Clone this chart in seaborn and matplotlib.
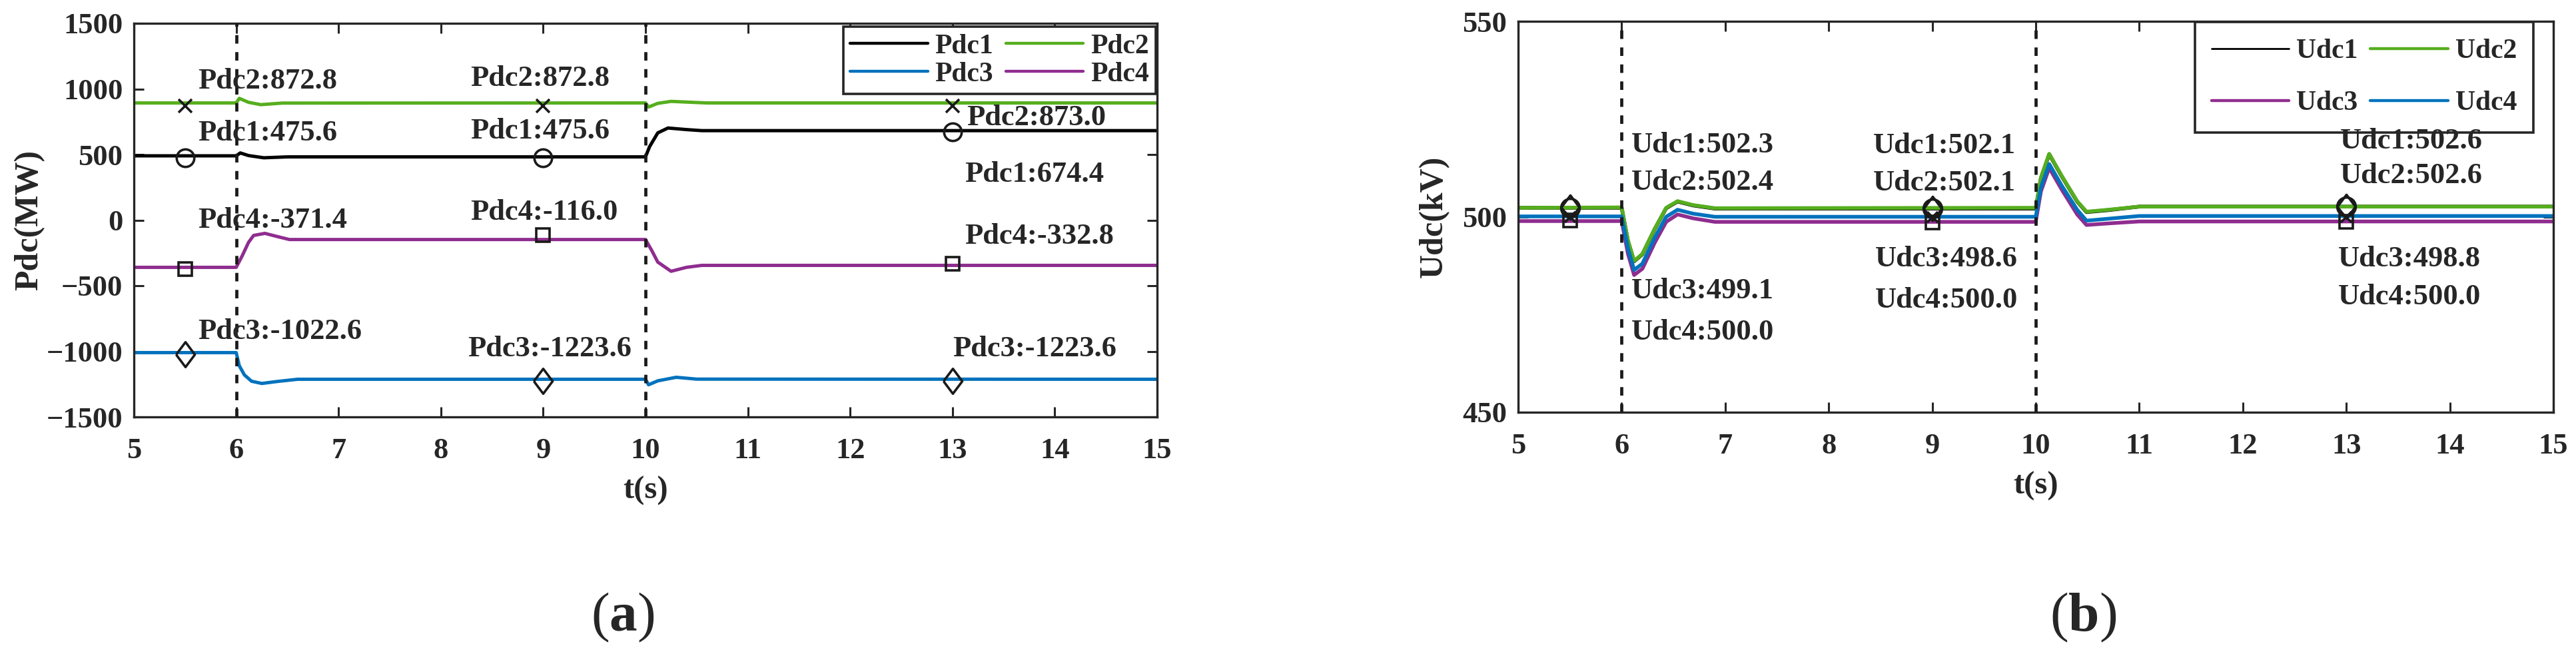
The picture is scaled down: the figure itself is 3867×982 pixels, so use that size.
import pandas as pd
import matplotlib.pyplot as plt
import seaborn as sns
from matplotlib.lines import Line2D

# ---------------- data ----------------
# (a) converter DC power, MW  (breakpoints of each trace)
pdc1_t = [5, 6.0, 6.04, 6.12, 6.27, 6.5, 10.0, 10.04, 10.12, 10.22, 10.4, 10.55, 15]
pdc1_v = [490, 490, 512, 492, 475, 482, 482, 560, 665, 702, 690, 682, 682]
pdc2_t = [5, 6.0, 6.03, 6.12, 6.24, 6.45, 10.0, 10.03, 10.12, 10.25, 10.45, 10.6, 15]
pdc2_v = [893, 893, 928, 898, 880, 892, 893, 862, 890, 905, 898, 893, 893]
pdc3_t = [5, 6.0, 6.03, 6.08, 6.15, 6.25, 6.4, 6.6, 10.0, 10.03, 10.12, 10.3, 10.5, 15]
pdc3_v = [-1010, -1010, -1110, -1180, -1228, -1245, -1230, -1213, -1213, -1255, -1225, -1198, -1212, -1213]
pdc4_t = [5, 6.0, 6.06, 6.12, 6.17, 6.28, 6.4, 6.52, 10.0, 10.06, 10.12, 10.25, 10.4, 10.55, 15]
pdc4_v = [-360, -360, -270, -170, -117, -101, -125, -148, -148, -230, -320, -390, -360, -345, -345]

# (b) converter DC voltage, kV
udc_t = [5, 6.0, 6.06, 6.12, 6.2, 6.32, 6.43, 6.54, 6.69, 6.9,
         10.0, 10.05, 10.13, 10.25, 10.4, 10.49, 10.7, 11.0, 15]
udc1_v = [502.3, 502.3, 493.9, 488.6, 490.4, 496.9, 502.2, 503.9, 502.9, 502.1,
          502.1, 509.9, 516.0, 510.4, 503.9, 501.2, 501.7, 502.6, 502.6]
udc2_v = [502.3, 502.4, 494.0, 488.7, 490.5, 497.0, 502.3, 504.0, 503.0, 502.2,
          502.3, 510.0, 516.1, 510.5, 504.0, 501.3, 501.8, 502.6, 502.6]
udc3_v = [498.9, 498.9, 490.6, 485.1, 486.7, 493.4, 498.7, 500.6, 499.6, 498.7,
          498.7, 506.5, 512.5, 507.0, 500.6, 497.9, 498.3, 498.8, 498.8]
udc4_v = [500.1, 500.1, 492.0, 486.4, 488.0, 494.7, 500.0, 501.8, 500.8, 500.0,
          500.0, 507.5, 513.5, 508.0, 501.8, 499.0, 499.5, 500.2, 500.2]

# marked sample points and their values
mark_t = [5.5, 9, 13]
pdc1_mark = [475.6, 475.6, 674.4]
pdc2_mark = [872.8, 872.8, 873.0]
pdc3_mark = [-1022.6, -1223.6, -1223.6]
pdc4_mark = [-371.4, -116.0, -332.8]
udc1_mark = [502.3, 502.1, 502.6]
udc2_mark = [502.4, 502.1, 502.6]
udc3_mark = [499.1, 498.6, 498.8]
udc4_mark = [500.0, 500.0, 500.0]
fault_t = [6, 10]

# ---------------- style ----------------
sns.set_theme(style='ticks')
plt.rcParams['font.family'] = ['Liberation Serif', 'DejaVu Serif']
plt.rcParams['font.weight'] = 'bold'
plt.rcParams['mathtext.fontset'] = 'custom'
plt.rcParams['mathtext.rm'] = 'Liberation Serif'
plt.rcParams['mathtext.bf'] = 'Liberation Serif:bold'

BLACK, GREEN, BLUE, PURPLE = '#000000', '#56AE1E', '#0072BD', '#8F2D8F'
DIAMOND = [(-0.75, 0), (0, 1), (0.75, 0), (0, -1), (-0.75, 0)]


def to_long(series):
    parts = [pd.DataFrame({'t': t, 'v': v, 'name': name}) for name, (t, v) in series.items()]
    return pd.concat(parts, ignore_index=True)


def style_axes(ax):
    for s in ax.spines.values():
        s.set_visible(True)
        s.set_linewidth(2.4)
        s.set_color('#262626')
    ax.tick_params(direction='in', top=True, right=True, length=11, width=2.2,
                   colors='#262626', labelsize=32)
    ax.tick_params(axis='x', pad=22)
    ax.tick_params(axis='y', pad=12)
    for lab in ax.get_xticklabels() + ax.get_yticklabels():
        lab.set_fontweight('bold')
    for x in fault_t:
        ax.axvline(x, color='k', lw=3.4, ls=(0, (2.7, 2.7)), zorder=6)


fig = plt.figure(figsize=(38.67, 9.82), dpi=100)
ax1 = fig.add_axes([201 / 3867, 1 - 626 / 982, 1536 / 3867, 591 / 982])
ax2 = fig.add_axes([2279 / 3867, 1 - 619 / 982, 1554 / 3867, 587 / 982])

# ---------------- (a) power ----------------
pdc = to_long({'Pdc1': (pdc1_t, pdc1_v), 'Pdc2': (pdc2_t, pdc2_v),
               'Pdc3': (pdc3_t, pdc3_v), 'Pdc4': (pdc4_t, pdc4_v)})
pdc_colors = {'Pdc1': BLACK, 'Pdc2': GREEN, 'Pdc3': BLUE, 'Pdc4': PURPLE}
sns.lineplot(data=pdc, x='t', y='v', hue='name', hue_order=['Pdc1', 'Pdc2', 'Pdc3', 'Pdc4'],
             palette=pdc_colors, estimator=None, sort=False, lw=3.6, legend=False, ax=ax1)

mk = dict(ls='none', mfc='none', mec='k', mew=2.6, zorder=7)
ax1.plot(mark_t, pdc1_mark, marker='o', ms=19, **mk)
ax1.plot(mark_t, pdc2_mark, marker='x', ms=14, **mk)
ax1.plot(mark_t, pdc3_mark, marker=DIAMOND, ms=27, **mk)
ax1.plot(mark_t, pdc4_mark, marker='s', ms=15, **mk)

# label anchors (t, y) for each marked point
pdc_text_pos = {
    'Pdc2': [(5.625, 1005), (8.29, 1025), (13.14, 721)],
    'Pdc1': [(5.625, 609), (8.29, 620), (13.12, 290)],
    'Pdc4': [(5.625, -60), (8.29, 0), (13.12, -178)],
    'Pdc3': [(5.625, -904), (8.26, -1040), (13.0, -1040)],
}
pdc_marks = {'Pdc1': pdc1_mark, 'Pdc2': pdc2_mark, 'Pdc3': pdc3_mark, 'Pdc4': pdc4_mark}
for name, pos in pdc_text_pos.items():
    for (tx, ty), val in zip(pos, pdc_marks[name]):
        ax1.text(tx, ty, f'{name}:{val:.1f}', fontsize=32, fontweight='bold',
                 ha='left', va='baseline', zorder=8)

ax1.set_xlim(5, 15)
ax1.set_ylim(-1500, 1500)
ax1.set_xticks(range(5, 16))
ax1.set_yticks(range(-1500, 1501, 500))
style_axes(ax1)
ax1.set_xlabel('t(s)', fontsize=35, fontweight='bold', va='center')
ax1.xaxis.set_label_coords(0.5, -111 / 591)
ax1.set_ylabel('Pdc(MW)', fontsize=36, fontweight='bold', va='center')
ax1.yaxis.set_label_coords(-157 / 1536, 0.5)

hp = {n: Line2D([], [], color=c, lw=3.2) for n, c in pdc_colors.items()}
order = ['Pdc1', 'Pdc3', 'Pdc2', 'Pdc4']
leg1 = ax1.legend([hp[n] for n in order], order, ncol=2, loc='upper right',
                  bbox_to_anchor=(0.9987, 0.9915), borderaxespad=0, fontsize=30,
                  handlelength=2.8, handletextpad=0.25, columnspacing=0.45,
                  labelspacing=0.1, borderpad=0.25, fancybox=False, framealpha=1,
                  edgecolor='#262626')
leg1.get_frame().set_linewidth(2.6)
for txt in leg1.get_texts():
    txt.set_fontweight('bold')

# ---------------- (b) voltage ----------------
udc = to_long({'Udc1': (udc_t, udc1_v), 'Udc2': (udc_t, udc2_v),
               'Udc3': (udc_t, udc3_v), 'Udc4': (udc_t, udc4_v)})
udc_colors = {'Udc1': BLACK, 'Udc2': GREEN, 'Udc3': PURPLE, 'Udc4': BLUE}
sns.lineplot(data=udc, x='t', y='v', hue='name', hue_order=['Udc1', 'Udc2', 'Udc3', 'Udc4'],
             palette=udc_colors, estimator=None, sort=False, lw=4.0, legend=False, ax=ax2)

ax2.plot(mark_t, udc1_mark, marker='o', ms=20, **mk)
ax2.plot(mark_t, udc2_mark, marker=DIAMOND, ms=26, **mk)
ax2.plot(mark_t, udc3_mark, marker='s', ms=15, **mk)
ax2.plot(mark_t, udc4_mark, marker='x', ms=11, **mk)

udc_text_pos = {
    'Udc1': [(6.09, 516.4), (8.43, 516.3), (12.94, 517.4)],
    'Udc2': [(6.09, 506.9), (8.43, 506.7), (12.94, 508.6)],
    'Udc3': [(6.09, 479.1), (8.45, 487.3), (12.92, 487.3)],
    'Udc4': [(6.09, 468.6), (8.45, 476.8), (12.92, 477.6)],
}
udc_marks = {'Udc1': udc1_mark, 'Udc2': udc2_mark, 'Udc3': udc3_mark, 'Udc4': udc4_mark}
for name, pos in udc_text_pos.items():
    for (tx, ty), val in zip(pos, udc_marks[name]):
        ax2.text(tx, ty, f'{name}:{val:.1f}', fontsize=32, fontweight='bold',
                 ha='left', va='baseline', zorder=8)

ax2.set_xlim(5, 15)
ax2.set_ylim(450, 550)
ax2.set_xticks(range(5, 16))
ax2.set_yticks([450, 500, 550])
style_axes(ax2)
ax2.set_xlabel('t(s)', fontsize=35, fontweight='bold', va='center')
ax2.xaxis.set_label_coords(0.5, -111 / 587)
ax2.set_ylabel('Udc(kV)', fontsize=36, fontweight='bold', va='center')
ax2.yaxis.set_label_coords(-126 / 1554, 0.5)

hu = {n: Line2D([], [], color=c, lw=3.2) for n, c in udc_colors.items()}
hu['Udc1'].set_linewidth(2.0)
order = ['Udc1', 'Udc3', 'Udc2', 'Udc4']
leg2 = ax2.legend([hu[n] for n in order], order, ncol=2, loc='upper right',
                  bbox_to_anchor=(0.9807, 0.998), borderaxespad=0, fontsize=30,
                  handlelength=2.8, handletextpad=0.26, columnspacing=0.45,
                  labelspacing=0.95, borderpad=0.6, fancybox=False, framealpha=1,
                  edgecolor='#262626')
leg2.get_frame().set_linewidth(2.6)
for txt in leg2.get_texts():
    txt.set_fontweight('bold')

# panel captions
fig.text(935 / 3867, 1 - 927 / 982, r'($\mathbf{a}$)', fontsize=60, fontweight='normal',
         ha='center', va='center')
fig.text(3127 / 3867, 1 - 927 / 982, r'($\mathbf{b}$)', fontsize=60, fontweight='normal',
         ha='center', va='center')

fig.savefig('out.png', dpi=100, facecolor='white')
